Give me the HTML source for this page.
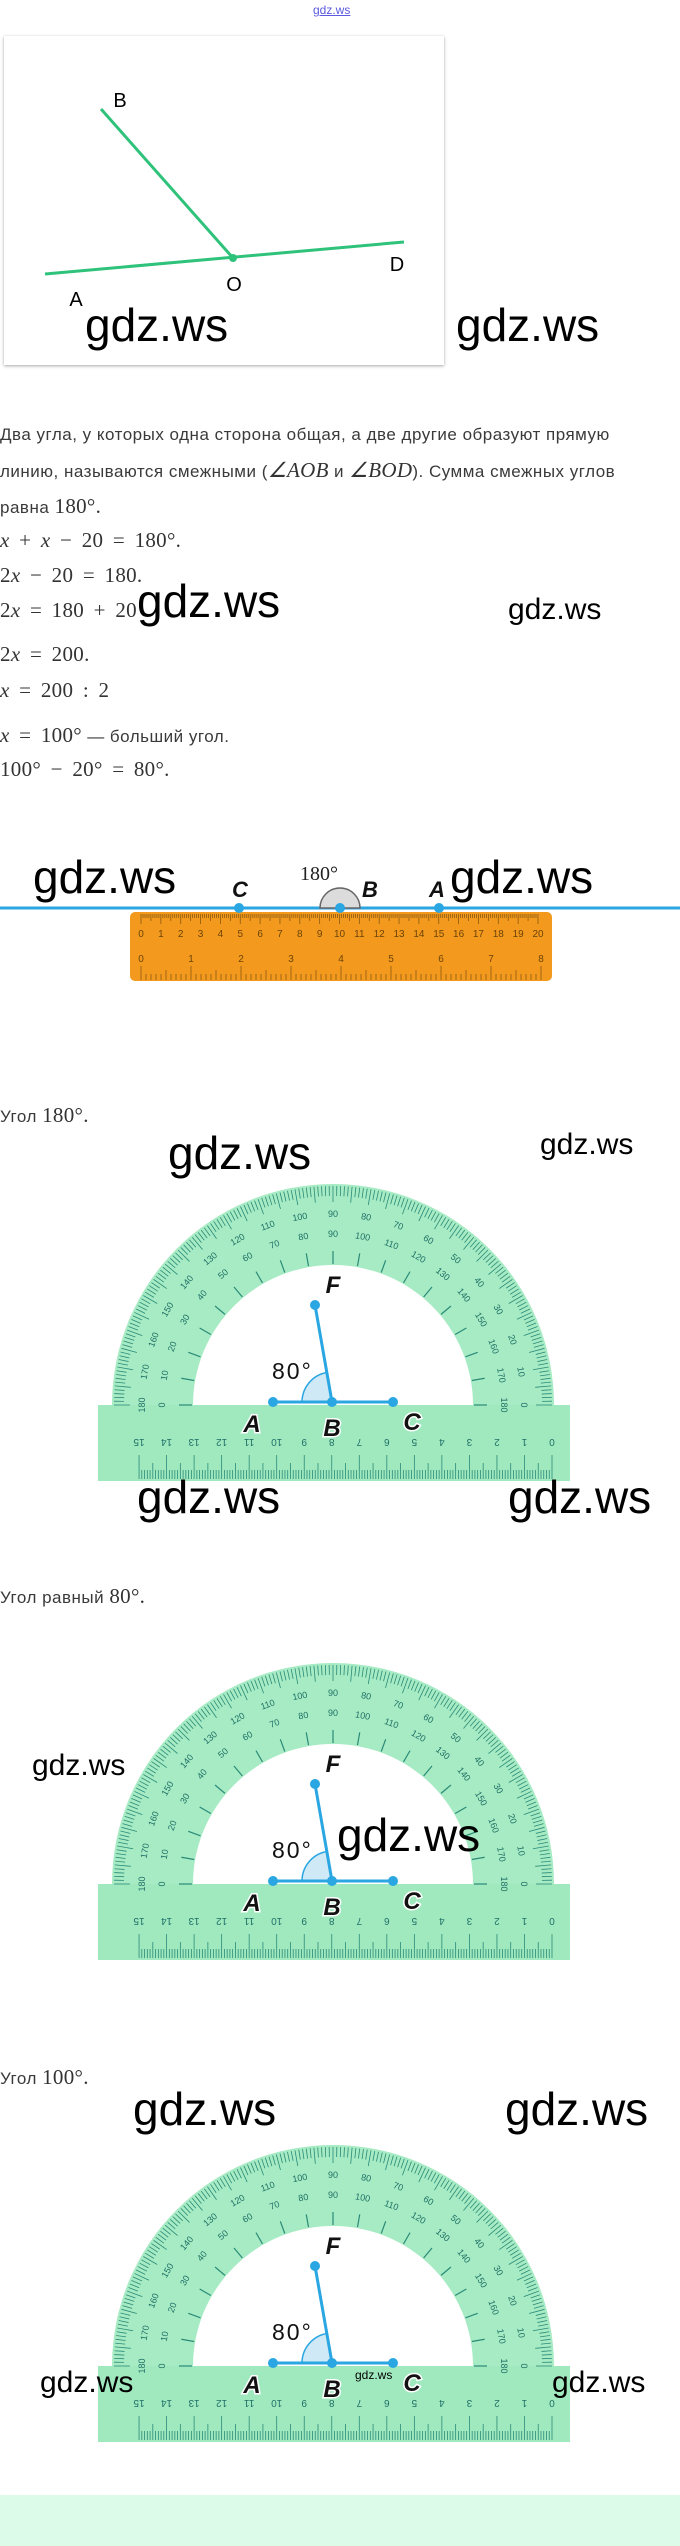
<!DOCTYPE html>
<html><head><meta charset="utf-8"><style>
html,body{margin:0;padding:0;background:#fff;width:680px;height:2546px;position:relative;overflow:hidden;font-family:"Liberation Sans",sans-serif}
.a{position:absolute;white-space:nowrap}
.wm{position:absolute;font-family:"Liberation Sans",sans-serif;color:#000;font-size:46px;line-height:46px;white-space:nowrap}
.wm.s{font-size:30px;line-height:30px}
.t{position:absolute;left:0;font-size:17px;letter-spacing:0.5px;color:#3a3a3a;white-space:nowrap;line-height:20px}
.m{font-family:"Liberation Serif",serif;font-size:21px;color:#333;letter-spacing:0.3px;word-spacing:4px}
.m i{font-style:italic}
</style></head><body>
<div class="a" style="left:313px;top:3px;font-size:12px;color:#5a5ae0;text-decoration:underline">gdz.ws</div>

<div class="a" style="left:4px;top:36px;width:440px;height:329px;background:#fff;box-shadow:0 1px 3px rgba(0,0,0,.35)"></div>
<svg class="a" style="left:0;top:0" width="680" height="380">
<line x1="101" y1="109" x2="233" y2="258" stroke="#2ec27a" stroke-width="3"/>
<line x1="45" y1="274" x2="404" y2="242" stroke="#2ec27a" stroke-width="3"/>
<circle cx="233" cy="258" r="4" fill="#2ec27a"/>
<g font-family="Liberation Sans" font-size="20" fill="#000" text-anchor="middle">
<text x="120" y="107">B</text><text x="397" y="271">D</text><text x="234" y="291">O</text><text x="76" y="306">A</text></g>
</svg>
<div class="wm" style="left:85px;top:302px">gdz.ws</div>
<div class="wm" style="left:456px;top:302px">gdz.ws</div>

<div class="t" style="top:425px">Два угла, у которых одна сторона общая, а две другие образуют прямую</div>
<div class="t" style="top:460px">линию, называются смежными (<span class="m"><i>∠AOB</i></span> и <span class="m"><i>∠BOD</i></span>). Сумма смежных углов</div>
<div class="t" style="top:496px">равна <span class="m">180°.</span></div>
<div class="t m" style="top:530px"><i>x</i> + <i>x</i> − 20 = 180°.</div>
<div class="t m" style="top:565px">2<i>x</i> − 20 = 180.</div>
<div class="t m" style="top:600px">2<i>x</i> = 180 + 20</div>
<div class="wm" style="left:137px;top:578px">gdz.ws</div>
<div class="wm s" style="left:508px;top:595px">gdz.ws</div>
<div class="t m" style="top:644px">2<i>x</i> = 200.</div>
<div class="t m" style="top:680px"><i>x</i> = 200 : 2</div>
<div class="t" style="top:725px"><span class="m"><i>x</i> = 100°</span> — больший угол.</div>
<div class="t m" style="top:759px">100° − 20° = 80°.</div>

<svg class="a" style="left:0;top:840px" width="680" height="160" id="rul">
<rect x="130" y="72" width="422" height="69" rx="5" fill="#f39a1e"/>
<g id="rt" stroke="#8a5a10" stroke-width="0.8"></g>
<g id="rn" font-family="Liberation Sans" font-size="10" fill="#6b4308" text-anchor="middle"></g>
<line x1="0" y1="68" x2="680" y2="68" stroke="#2aa6e2" stroke-width="3"/>
<path d="M320 68 A20 20 0 0 1 360 68 Z" fill="#dcdcdc" stroke="#666" stroke-width="1.5"/>
<circle cx="239" cy="68" r="5" fill="#2aa6e2"/><circle cx="340" cy="68" r="5" fill="#2aa6e2"/><circle cx="439" cy="68" r="5" fill="#2aa6e2"/>
<text x="300" y="40" font-family="Liberation Serif" font-size="20" fill="#222">180°</text>
<g font-family="Liberation Sans" font-style="italic" font-weight="bold" font-size="22" fill="#111" text-anchor="middle">
<text x="240" y="57">C</text><text x="370" y="57">B</text><text x="437" y="57">A</text></g>
</svg>
<div class="wm" style="left:33px;top:854px">gdz.ws</div>
<div class="wm" style="left:450px;top:854px">gdz.ws</div>

<div class="t" style="top:1105px">Угол <span class="m">180°.</span></div>
<div class="wm" style="left:168px;top:1130px">gdz.ws</div>
<div class="wm s" style="left:540px;top:1130px">gdz.ws</div>
<svg class="a pr" style="left:0;top:1165px" width="680" height="330"></svg>
<div class="wm" style="left:137px;top:1474px">gdz.ws</div>
<div class="wm" style="left:508px;top:1474px">gdz.ws</div>

<div class="t" style="top:1586px">Угол равный <span class="m">80°.</span></div>
<svg class="a pr" style="left:0;top:1644px" width="680" height="330"></svg>
<div class="wm s" style="left:32px;top:1751px">gdz.ws</div>
<div class="wm" style="left:337px;top:1812px">gdz.ws</div>

<div class="t" style="top:2067px">Угол <span class="m">100°.</span></div>
<div class="wm" style="left:133px;top:2086px">gdz.ws</div>
<div class="wm" style="left:505px;top:2086px">gdz.ws</div>
<svg class="a pr" style="left:0;top:2126px" width="680" height="330"></svg>
<div class="wm s" style="left:40px;top:2368px">gdz.ws</div>
<div class="wm s" style="left:552px;top:2368px">gdz.ws</div>
<div class="a" style="left:355px;top:2368px;font-size:12px;color:#000">gdz.ws</div>

<div class="a" style="left:0;top:2495px;width:680px;height:51px;background:#dcfce9"></div>

<script>
var NS="http://www.w3.org/2000/svg";
function el(p,n,a,t){var e=document.createElementNS(NS,n);for(var k in a)e.setAttribute(k,a[k]);if(t!=null)e.textContent=t;p.appendChild(e);return e;}
var rt=document.getElementById('rt'),rn=document.getElementById('rn');
for(var i=0;i<=200;i++){var x=141+i*1.985;var L=i%10==0?10:(i%5==0?7:4);el(rt,'line',{x1:x,y1:74,x2:x,y2:74+L});}
for(var i=0;i<=20;i++){el(rn,'text',{x:141+i*19.85,y:97},String(i));}
for(var i=0;i<=80;i++){var x=141+i*5;var L=i%10==0?14:(i%5==0?10:6);el(rt,'line',{x1:x,y1:140,x2:x,y2:140-L});}
for(var i=0;i<=8;i++){el(rn,'text',{x:141+i*50,y:122},String(i));}
var cx=333,by=240,R=221,r=140;
document.querySelectorAll('.pr').forEach(function(s){
 el(s,'path',{d:'M'+(cx-R)+' '+by+' A'+R+' '+R+' 0 0 1 '+(cx+R)+' '+by+' L'+(cx+r)+' '+by+' A'+r+' '+r+' 0 0 0 '+(cx-r)+' '+by+' Z',fill:'#a6ebc3'});
 el(s,'rect',{x:98,y:by,width:472,height:76,fill:'#a0e9bf'});
 var g=el(s,'g',{stroke:'#2a8a78','stroke-width':'0.8'});
 for(var d=0;d<=180;d++){var a=d*Math.PI/180,c=Math.cos(a),sn=Math.sin(a);var r1=d%5==0?203:209;
  el(g,'line',{x1:cx+r1*c,y1:by-r1*sn,x2:cx+219*c,y2:by-219*sn});}
 for(var d=0;d<=180;d+=10){var a=d*Math.PI/180,c=Math.cos(a),sn=Math.sin(a);
  el(g,'line',{x1:cx+141*c,y1:by-141*sn,x2:cx+154*c,y2:by-154*sn,'stroke-width':'1.2'});}
 var tg=el(s,'g',{'font-family':'Liberation Sans','font-size':'9',fill:'#1f6f66','text-anchor':'middle'});
 for(var d=0;d<=180;d+=10){var a=d*Math.PI/180,c=Math.cos(a),sn=Math.sin(a);
  var x=cx+191*c,y=by-191*sn;el(tg,'text',{x:x,y:y+3,transform:'rotate('+(90-d)+' '+x+' '+y+')'},String(d));
  x=cx+171*c;y=by-171*sn;el(tg,'text',{x:x,y:y+3,transform:'rotate('+(90-d)+' '+x+' '+y+')'},String(180-d));}
 var rg=el(s,'g',{stroke:'#2a8a78','stroke-width':'0.8'});
 for(var i=0;i<=150;i++){var x=552-i*2.753;var L=i%10==0?24:(i%5==0?16:9);el(rg,'line',{x1:x,y1:by+74,x2:x,y2:by+74-L});}
 var ng=el(s,'g',{'font-family':'Liberation Sans','font-size':'10',fill:'#1f6f66','text-anchor':'middle'});
 for(var i=0;i<=15;i++){var x=552-i*27.53,y=by+38;el(ng,'text',{x:x,y:y+4,transform:'rotate(180 '+x+' '+y+')'},String(i));}
 var bx=332,bb=by-3,fx=315,fy=by-100;
 var wa=100*Math.PI/180;
 el(s,'path',{d:'M'+bx+' '+bb+' L'+(bx-30)+' '+bb+' A30 30 0 0 1 '+(bx+30*Math.cos(wa))+' '+(bb-30*Math.sin(wa))+' Z',fill:'#cfe9f6',stroke:'#2aa6e2','stroke-width':'1.5'});
 el(s,'line',{x1:273,y1:bb,x2:393,y2:bb,stroke:'#2aa6e2','stroke-width':'3'});
 el(s,'line',{x1:bx,y1:bb,x2:fx,y2:fy,stroke:'#2aa6e2','stroke-width':'3'});
 [[273,bb],[bx,bb],[393,bb],[fx,fy]].forEach(function(p){el(s,'circle',{cx:p[0],cy:p[1],r:5,fill:'#2aa6e2'});});
 var lg=el(s,'g',{'font-family':'Liberation Sans','font-style':'italic','font-weight':'bold','font-size':'24',fill:'#111',stroke:'#fff','stroke-width':'3','paint-order':'stroke','text-anchor':'middle'});
 el(lg,'text',{x:252,y:by+27},'A');el(lg,'text',{x:332,y:by+31},'B');el(lg,'text',{x:412,y:by+25},'C');el(lg,'text',{x:333,y:by-112},'F');
 el(s,'text',{x:272,y:by-26,'font-family':'Liberation Sans','font-size':'23',fill:'#111','letter-spacing':'2'},'80°');
});
</script>
</body></html>
